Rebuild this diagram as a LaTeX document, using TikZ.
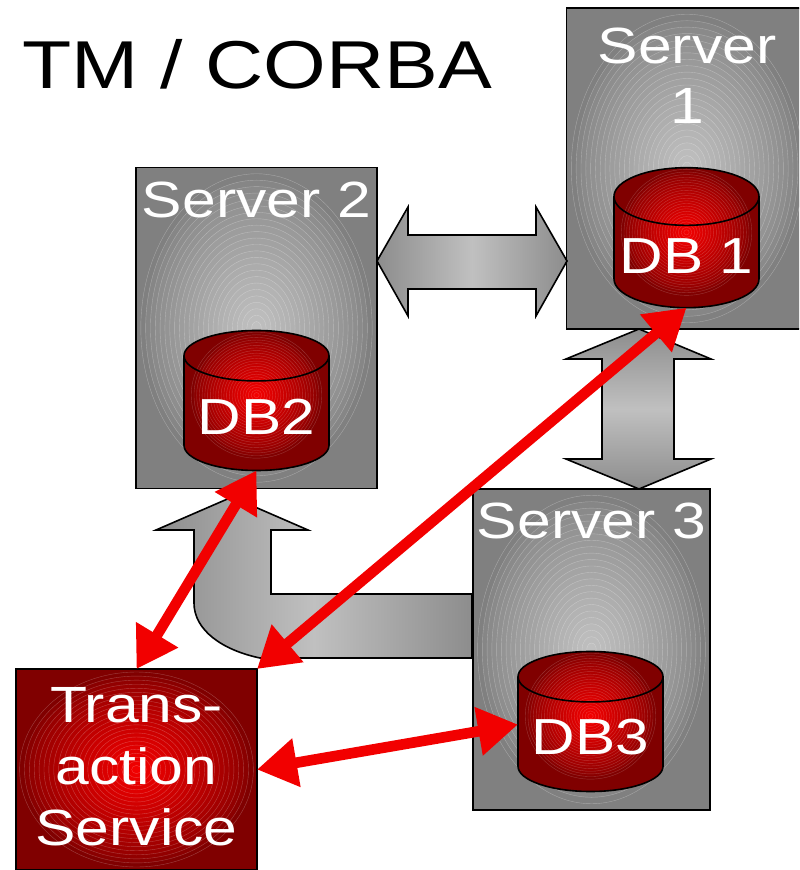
\documentclass[tikz,border=0pt]{standalone}
\usepackage{fontspec}
\setmainfont{Liberation Sans}[FakeStretch=1.19]
\usetikzlibrary{shapes.geometric,positioning,calc,arrows.meta}
\definecolor{srvgray}{RGB}{128,128,128}
\definecolor{srvlight}{RGB}{192,192,192}
\definecolor{dbdark}{RGB}{128,0,0}
\definecolor{dbred}{RGB}{242,0,0}

\begin{document}
\begin{tikzpicture}[
    x=0.75pt, y=-0.75pt,
    glow/.style n args={5}{
        path picture={
          \foreach \i in {24,...,1} {
            \pgfmathtruncatemacro{\pct}{100*(1-(\i-1)/23)^0.75}
            \filldraw[fill=#1!\pct!#2, draw=white, draw opacity=#3, line width=0.3pt]
              let \p1=($(path picture bounding box.north east)-(path picture bounding box.center)$) in
              ([yshift=#4]path picture bounding box.center) ellipse [x radius=\i/24*#5*\x1, y radius=\i/24*#5*\y1];
          }
        }
      },
    servernode/.style={
        rectangle, draw=black, fill=srvgray, line width=1.2pt, inner sep=0pt, outer sep=0pt,
        minimum width=180.75pt, minimum height=241pt, glow={srvlight}{srvgray}{0.3}{0pt}{0.96}
      },
    servertext/.style={
        text=white, align=center, font=\fontsize{38.2}{45}\selectfont, inner sep=0pt
      },
    dbnode/.style={
        cylinder, shape border rotate=90, aspect=0.43, draw=black, fill=dbdark, line width=1.2pt,
        minimum width=108.75pt, minimum height=105pt, inner sep=0pt, outer sep=0pt, text height=31pt,
        text=white, font=\fontsize{38}{46}\selectfont, glow={dbred}{dbdark}{0.2}{4pt}{0.9}
      },
    transnode/.style={
        rectangle, draw=black, fill=dbdark, line width=1.2pt, inner sep=0pt, outer sep=0pt,
        minimum width=180.75pt, minimum height=150.75pt, glow={dbred}{dbdark}{0.25}{0pt}{0.97}
      },
    transtext/.style={
        text=white, align=center, font=\fontsize{38.2}{46}\selectfont, inner sep=0pt
      },
    hblock/.style={
        draw=black, line width=1.2pt, left color=srvgray!90!white, right color=srvgray!90!white, middle color=srvlight
      },
    vblock/.style={
        draw=black, line width=1.2pt, top color=srvgray!90!white, bottom color=srvgray!90!white, middle color=srvlight
      },
    redarrow/.style={
        {Triangle[length=30pt,width=35pt]}-{Triangle[length=30pt,width=35pt]}, draw=dbred, line width=8pt
      },
  ]
  \path[use as bounding box, clip] (0,0) rectangle (799,870);

  \node[font=\fontsize{50.8}{60}\selectfont, anchor=base west, inner sep=0pt](title) at (22,89) {TM / CORBA};

  \node[servernode](server1) at (687,168.5) {};
  \node[servernode](server2) at (256.5,328) {};
  \node[servernode, minimum width=178pt](server3) at (591.5,649.5) {};
  \node[servertext](server1text) [below=15pt of server1.north] {Server\\1};
  \node[servertext](server2text) [below=10.5pt of server2.north] {Server 2};
  \node[servertext](server3text) [below=10.5pt of server3.north] {Server 3};

  \node[dbnode](db1) at (686.5,252.5) {DB 1};
  \node[dbnode](db2) at (256.5,413.5) {DB2};
  \node[dbnode](db3) at (590.5,734.5) {DB3};

  % block arrows between the servers
  \path[hblock] (377,261) -- (408,207) -- (408,235) -- (536,235) -- (536,207) -- (567,261)
    -- (536,316) -- (536,289) -- (408,289) -- (408,316) -- cycle;
  \path[vblock] (639,329) -- (711,359) -- (674,359) -- (674,459) -- (711,459) -- (639,489)
    -- (566,459) -- (602,459) -- (602,359) -- (566,359) -- cycle;
  \path[hblock] (232,497) -- (308,530) -- (271,530) -- (271,594) -- (472,594) -- (472,658) -- (260,658)
    .. controls (222,650) and (194,630) .. (194,603) -- (194,530) -- (156,530) -- cycle;

  \node[transnode](trans) at (136.5,769.5) {};
  \node[transtext](transtext) [yshift=2pt] at (trans) {Trans-\\action\\Service};

  \draw[redarrow] (db2.south) -- (trans.north);
  \draw[redarrow] (db1.south) -- (trans.north east);
  \draw[redarrow] (trans.east) -- ([yshift=7.5pt]db3.west);
\end{tikzpicture}
\end{document}
